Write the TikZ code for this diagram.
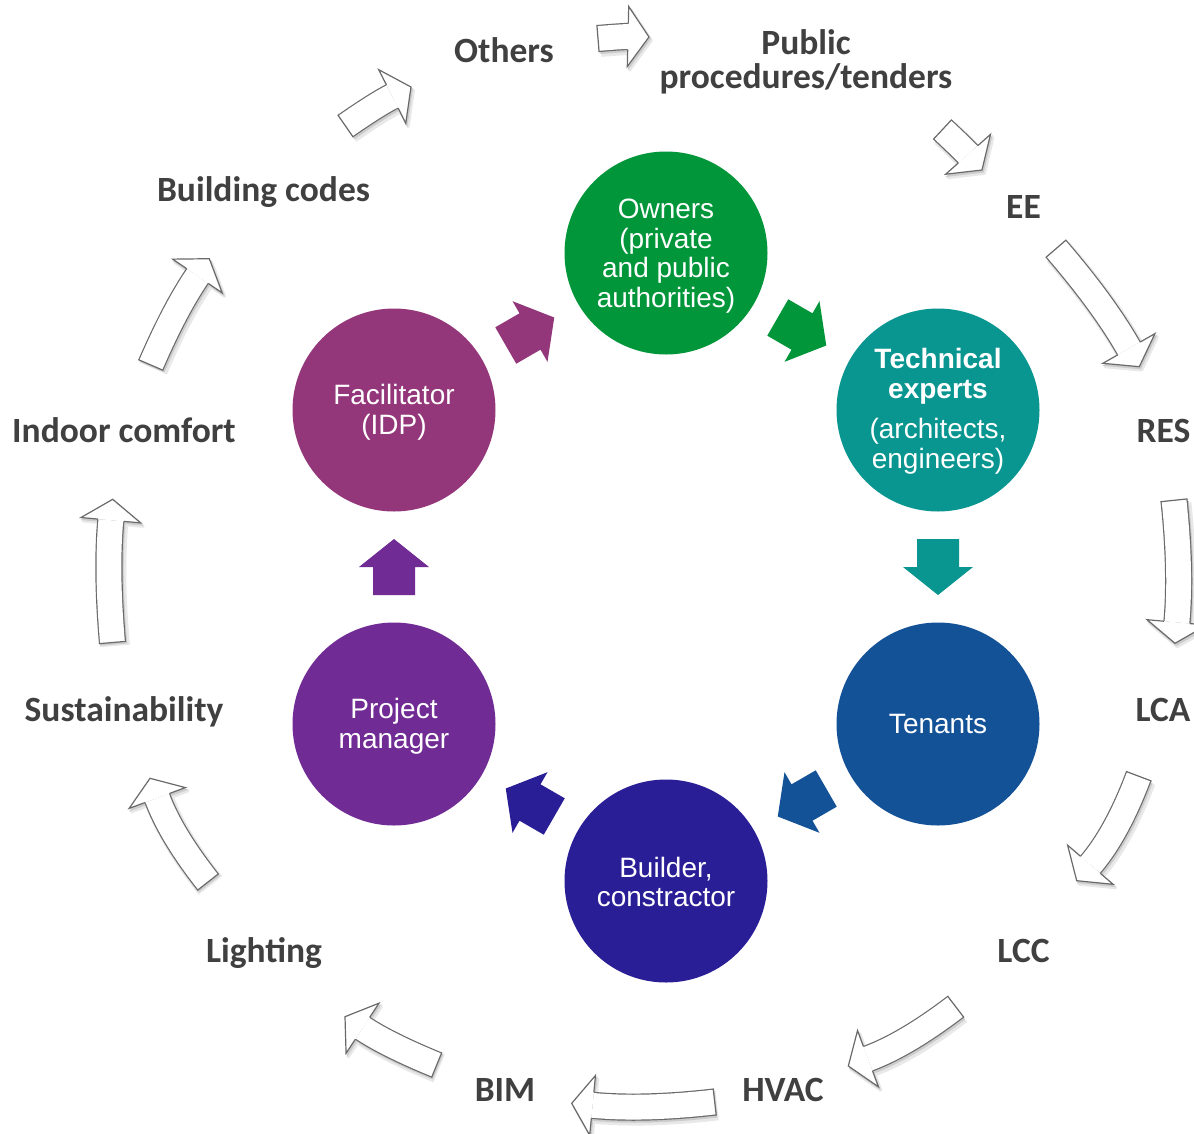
\documentclass[tikz,border=0pt]{standalone}
\usepackage{fontspec}
\setmainfont{Liberation Sans}
\newfontfamily\labfont{Carlito}
\usetikzlibrary{calc}
\definecolor{cOwn}{HTML}{009639}
\definecolor{cTec}{HTML}{099690}
\definecolor{cTen}{HTML}{145298}
\definecolor{cBui}{HTML}{2A1E96}
\definecolor{cPM}{HTML}{712B94}
\definecolor{cFac}{HTML}{93377A}
\definecolor{labgray}{HTML}{404040}
\definecolor{edgegray}{HTML}{6A6A6A}
\tikzset{
  circ/.style={circle, minimum size=203pt, inner sep=0pt},
  circtext/.style={inner sep=0pt, text=white, align=center,
    font=\fontsize{28}{29.5}\selectfont},
  lab/.style={text=labgray, inner sep=0pt, anchor=base, align=center,
    font=\labfont\bfseries\fontsize{35.5}{34}\selectfont},
  shadA/.style={black!9},
  shadB/.style={black!20},
  edgeline/.style={edgegray, line width=1.2pt, line join=miter},
}
% outer white block arrow: #1 name, #2 tail, #3 control, #4 tip
\newcommand\outarrow[4]{%
  \coordinate (#1-A) at #2;
  \coordinate (#1-C) at #3;
  \coordinate (#1-T) at #4;
  \coordinate (#1-H) at ($(#1-T)!21pt!(#1-C)$);
  \coordinate (#1-K1) at ($(#1-A)!0.6667!(#1-C)$);
  \coordinate (#1-K2) at ($(#1-H)!0.6667!(#1-C)$);
  \coordinate (#1-W1) at ($(#1-H)!30pt!90:(#1-T)$);
  \coordinate (#1-W2) at ($(#1-H)!30pt!-90:(#1-T)$);
  \coordinate (#1-S1) at ($(#1-H)!13pt!90:(#1-T)$);
  \coordinate (#1-S2) at ($(#1-H)!13pt!-90:(#1-T)$);
  \coordinate (#1-B1) at ($(#1-A)!13.6pt!90:(#1-C)$);
  \coordinate (#1-B2) at ($(#1-A)!13.6pt!-90:(#1-C)$);
  \begin{scope}[transform canvas={shift={(2.4pt,-3.4pt)}}]
    \draw[shadA, line width=30pt] (#1-A) .. controls (#1-K1) and (#1-K2) .. (#1-H);
    \filldraw[shadA, line width=3pt, line join=round] (#1-W1) -- (#1-T) -- (#1-W2) -- cycle;
  \end{scope}
  \begin{scope}[transform canvas={shift={(1.3pt,-2.1pt)}}]
    \draw[shadB, line width=27pt] (#1-A) .. controls (#1-K1) and (#1-K2) .. (#1-H);
    \filldraw[shadB, line width=1pt] (#1-W1) -- (#1-T) -- (#1-W2) -- cycle;
  \end{scope}
  \draw[edgegray, line width=27.2pt] (#1-A) .. controls (#1-K1) and (#1-K2) .. (#1-H);
  \draw[white, line width=24.8pt] (#1-A) .. controls (#1-K1) and (#1-K2) .. (#1-H);
  \fill[white] (#1-W1) -- (#1-T) -- (#1-W2) -- cycle;
  \draw[edgeline] (#1-S1) -- (#1-W1) -- (#1-T) -- (#1-W2) -- (#1-S2);
  \draw[edgeline] (#1-B1) -- (#1-B2);
}
% inner coloured block arrow: #1 name, #2 from node, #3 to node, #4 colour
\newcommand\inarrow[4]{%
  \coordinate (#1-M) at ($(#2.center)!0.5!(#3.center)$);
  \coordinate (#1-T) at ($(#1-M)!28pt!(#3.center)$);
  \coordinate (#1-A) at ($(#1-M)!28pt!(#2.center)$);
  \fill[#4] ($(#1-A)!21pt!90:(#1-T)$) -- ($(#1-M)!21pt!90:(#1-T)$)
    -- ($(#1-M)!35pt!90:(#1-T)$) -- (#1-T) -- ($(#1-M)!35pt!-90:(#1-T)$)
    -- ($(#1-M)!21pt!-90:(#1-T)$) -- ($(#1-A)!21pt!-90:(#1-T)$) -- cycle;
}
\begin{document}
\begin{tikzpicture}[x=1pt, y=-1pt]
\useasboundingbox[fill=white] (0,0) rectangle (1194,1133);

% circles
\node[circ, fill=cOwn] (own) at (666,253) {};
\node[circ, fill=cTec] (tec) at (938,410) {};
\node[circ, fill=cTen] (ten) at (938,724) {};
\node[circ, fill=cBui] (bui) at (666,881) {};
\node[circ, fill=cPM]  (pm)  at (394,724) {};
\node[circ, fill=cFac] (fac) at (394,410) {};

% circle texts
\node[circtext] (own-t) at ($(own.center)+(0,3)$) {Owners\\(private\\and public\\authorities)};
\node[circtext] (tec-t) at ($(tec.center)+(0,1.5)$) {\textbf{Technical}\\\textbf{experts}\\[11pt](architects,\\engineers)};
\node[circtext] (ten-t) at (ten.center) {Tenants};
\node[circtext] (bui-t) at ($(bui.center)+(0,1)$) {Builder,\\constractor};
\node[circtext] (pm-t)  at ($(pm.center)+(0,2)$) {Project\\manager};
\node[circtext] (fac-t) at ($(fac.center)+(0,2)$) {Facilitator\\(IDP)};

% inner arrows
\inarrow{ia1}{fac}{own}{cFac}
\inarrow{ia2}{own}{tec}{cOwn}
\inarrow{ia3}{tec}{ten}{cTec}
\inarrow{ia4}{ten}{bui}{cTen}
\inarrow{ia5}{bui}{pm}{cBui}
\inarrow{ia6}{pm}{fac}{cPM}

% outer labels
\node[lab] (l1)  at (504,62)    {Others};
\node[lab, anchor=center] (l2) at (806,62) {Public\\procedures/tenders};
\node[lab] (l3)  at (1023.5,218) {EE};
\node[lab] (l4)  at (1163.5,442) {RES};
\node[lab] (l5)  at (1163,721)  {LCA};
\node[lab] (l6)  at (1023.5,962) {LCC};
\node[lab] (l7)  at (783,1101)  {HVAC};
\node[lab] (l8)  at (505,1101)  {BIM};
\node[lab] (l9)  at (264,962)   {Lighting};
\node[lab] (l10) at (124,721)   {Sustainability};
\node[lab] (l11) at (124,442)   {Indoor comfort};
\node[lab] (l12) at (263.5,201) {Building codes};

% outer arrows
\outarrow{o1}{(598,38.5)}{(623.5,36.4)}{(649,37)}
\outarrow{o2}{(942.5,129.5)}{(963.2,148.85)}{(982,170)}
\outarrow{o3}{(1056,248.7)}{(1103.4,303.7)}{(1139.3,366.7)}
\outarrow{o4}{(1174,500.3)}{(1181.5,571.8)}{(1175,643.3)}
\outarrow{o5}{(1138.7,776.2)}{(1116.9,833.9)}{(1076.7,880.7)}
\outarrow{o6}{(955.7,1006.7)}{(906.4,1044.4)}{(848.3,1066)}
\outarrow{o7}{(714.7,1102)}{(643.2,1110.2)}{(571.7,1103.3)}
\outarrow{o8}{(436.7,1065)}{(388.5,1045.3)}{(345,1016.7)}
\outarrow{o9}{(208,882)}{(170.8,834.6)}{(150,778.3)}
\outarrow{o10}{(112.5,642.5)}{(106.3,570.9)}{(112.7,499.3)}
\outarrow{o11}{(150.8,365)}{(175,309)}{(209.3,258.7)}
\outarrow{o12}{(345.5,126)}{(376.9,104.2)}{(411,87)}
\end{tikzpicture}
\end{document}
